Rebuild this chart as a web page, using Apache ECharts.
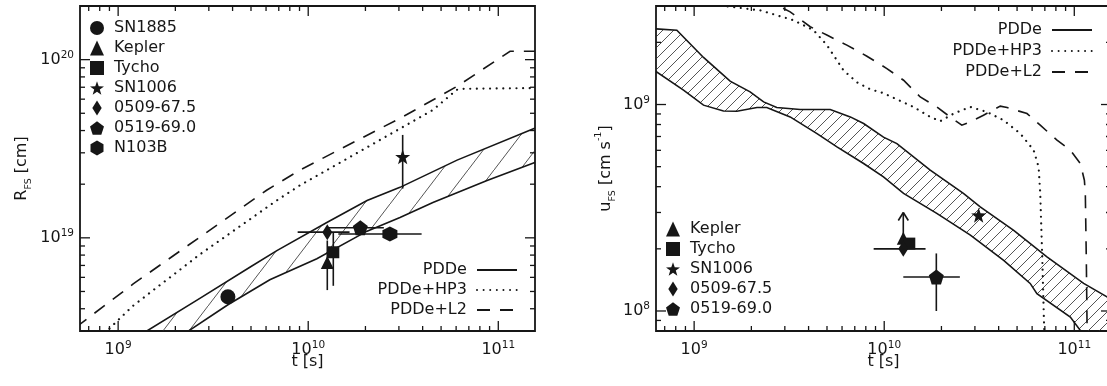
<!DOCTYPE html>
<html><head><meta charset="utf-8">
<script src="https://cdn.jsdelivr.net/npm/echarts@6/dist/echarts.min.js"></script>
<style>html,body{margin:0;padding:0;background:#fff}#c{width:1107px;height:386px}</style>
</head><body><div id="c"></div>
<script>
// ================= DATA =================
// axis ranges (log)
const tRange = [6.3e8, 1.56e11];
const rRange = [3e18, 2e20];
const uRange = [8e7, 3e9];

// ---- left panel: forward-shock radius R_FS ----
const bandRUpperT = [1.2e9, 1.416e9, 2.69e9, 4.93e9, 6.84e9, 1.253e10, 2.04e10, 3.04e10, 6.07e10, 1.52e11, 1.66e11];
const bandRUpperR = [2.69e18, 3.0e18, 4.57e18, 6.84e18, 8.48e18, 1.22e19, 1.62e19, 1.92e19, 2.73e19, 4.08e19, 4.24e19];
const bandRLowerT = [2.0e9, 2.30e9, 3.78e9, 6.28e9, 1.11e10, 2.04e10, 3.04e10, 4.53e10, 8.73e10, 1.52e11, 1.66e11];
const bandRLowerR = [2.69e18, 2.96e18, 4.21e18, 5.82e18, 7.64e18, 1.09e19, 1.30e19, 1.58e19, 2.10e19, 2.62e19, 2.72e19];
const hp3RT = [8.5e8, 9.06e8, 1.195e9, 2.69e9, 6.82e9, 9.04e9, 4.53e10, 6.04e10, 6.55e10, 1.47e11, 1.66e11];
const hp3R  = [2.92e18, 3.12e18, 4.15e18, 8.07e18, 1.62e19, 1.97e19, 5.22e19, 6.77e19, 6.86e19, 6.92e19, 6.93e19];
const l2RT = [6.0e8, 6.28e8, 1.2e9, 6.04e9, 9.04e9, 3.16e10, 6.04e10, 1.153e11, 1.66e11];
const l2R  = [3.16e18, 3.27e18, 5.51e18, 1.85e19, 2.40e19, 4.79e19, 7.06e19, 1.114e20, 1.114e20];

const remnantsR = ['SN1885', 'Kepler', 'Tycho', 'SN1006', '0509-67.5', '0519-69.0', 'N103B'];
const ageR    = [3.78e9, 1.26e10, 1.355e10, 3.14e10, 1.26e10, 1.88e10, 2.69e10];
const radius  = [4.67e18, 7.28e18, 8.3e18, 2.85e19, 1.076e19, 1.14e19, 1.05e19];
const radiusLo = [null, 5.09e18, 5.38e18, 1.89e19, null, null, null];
const radiusHi = [null, 9.66e18, 1.076e19, 3.78e19, null, null, null];
const ageRLo  = [null, null, null, null, 8.8e9, 1.26e10, 1.44e10];
const ageRHi  = [null, null, null, null, 1.65e10, 2.5e10, 3.95e10];

// ---- right panel: forward-shock velocity u_FS ----
const bandUUpperT = [6.0e8, 8.11e8, 1.12e9, 1.546e9, 1.97e9, 2.32e9, 2.72e9, 3.61e9, 5.2e9, 6.63e9, 7.79e9, 9.91e9, 1.166e10, 1.746e10, 2.61e10, 3.2e10, 4.8e10, 7.18e10, 1.12e11, 1.486e11, 1.62e11];
const bandUUpperU = [2.33e9, 2.29e9, 1.69e9, 1.297e9, 1.151e9, 1.03e9, 9.67e8, 9.46e8, 9.46e8, 8.71e8, 8.09e8, 6.95e8, 6.47e8, 4.81e8, 3.71e8, 3.19e8, 2.46e8, 1.83e8, 1.36e8, 1.17e8, 1.11e8];
const bandULowerT = [6.0e8, 8.79e8, 1.12e9, 1.427e9, 1.678e9, 2.14e9, 2.41e9, 3.2e9, 4.43e9, 5.64e9, 7.79e9, 9.91e9, 1.264e10, 1.89e10, 2.84e10, 4.25e10, 5.86e10, 6.36e10, 9.53e10, 1.076e11, 1.62e11];
const bandULowerU = [1.49e9, 1.173e9, 9.93e8, 9.31e8, 9.28e8, 9.67e8, 9.67e8, 8.71e8, 7.23e8, 6.24e8, 5.18e8, 4.46e8, 3.71e8, 2.97e8, 2.33e8, 1.76e8, 1.36e8, 1.214e8, 9.35e7, 8.05e7, 6.3e7];
const hp3UT = [1.29e9, 1.486e9, 2.22e9, 3.33e9, 4.25e9, 4.99e9, 5.63e9, 6.1e9, 7.18e9, 8.43e9, 9.91e9, 1.426e10, 1.746e10, 1.97e10, 2.32e10, 2.84e10, 3.47e10, 4.25e10, 5.2e10, 6.11e10, 6.49e10, 6.62e10, 6.79e10, 6.95e10, 7.0e10];
const hp3U  = [3.13e9, 2.99e9, 2.86e9, 2.56e9, 2.29e9, 1.94e9, 1.64e9, 1.466e9, 1.282e9, 1.186e9, 1.135e9, 9.73e8, 8.71e8, 8.3e8, 9.04e8, 9.73e8, 9.2e8, 8.39e8, 7.23e8, 6.01e8, 4.99e8, 3.71e8, 1.76e8, 7.9e7, 6.0e7];
const l2UT = [2.3e9, 2.51e9, 2.72e9, 3.2e9, 4.08e9, 4.99e9, 6.36e9, 8.11e9, 1.033e10, 1.264e10, 1.547e10, 1.89e10, 2.22e10, 2.56e10, 2.84e10, 3.33e10, 4.08e10, 4.43e10, 5.64e10, 6.62e10, 8.11e10, 9.53e10, 1.076e11, 1.13e11, 1.143e11, 1.157e11, 1.17e11];
const l2U  = [3.3e9, 3.13e9, 3.03e9, 2.81e9, 2.38e9, 2.17e9, 1.94e9, 1.714e9, 1.493e9, 1.311e9, 1.088e9, 9.73e8, 8.71e8, 7.94e8, 8.24e8, 8.88e8, 9.82e8, 9.67e8, 9.04e8, 7.94e8, 6.72e8, 6.01e8, 5.18e8, 4.3e8, 3.72e8, 1.76e8, 7.0e7];

const remnantsU = ['Kepler', 'Tycho', 'SN1006', '0509-67.5', '0519-69.0'];
const ageU    = [1.26e10, 1.355e10, 3.14e10, 1.26e10, 1.88e10];
const speed   = [2.25e8, 2.12e8, 2.91e8, 2.0e8, 1.46e8];
const speedLo = [null, null, null, null, 1.0e8];
const speedHi = [null, null, null, null, 1.9e8];
const speedLimit = [3.0e8, null, null, null, null];   // lower limit (arrow)
const ageULo  = [null, null, null, 8.8e9, 1.26e10];
const ageUHi  = [null, null, null, 1.65e10, 2.5e10];

const modelNames = ['PDDe', 'PDDe+HP3', 'PDDe+L2'];

// ================= STYLE =================
const FONT = '"DejaVu Sans", "Liberation Sans", Arial, sans-serif';
const FS = 16;
const INK = '#161616';

function starPath() {
  let d = '';
  for (let k = 0; k < 10; k++) {
    const r = k % 2 === 0 ? 50 : 20;
    const a = -Math.PI / 2 + k * Math.PI / 5;
    d += (k === 0 ? 'M' : 'L') + (50 + r * Math.cos(a)).toFixed(2) + ',' + (50 + r * Math.sin(a)).toFixed(2) + ' ';
  }
  return 'path://' + d + 'Z';
}
const SYM = {
  'SN1885': 'circle',
  'Kepler': 'triangle',
  'Tycho': 'path://M0,0H10V10H0Z',
  'SN1006': starPath(),
  '0509-67.5': 'path://M5,0L10,8L5,16L0,8Z',
  '0519-69.0': 'path://M50,0L97.6,34.5L79.4,90.5L20.6,90.5L2.4,34.5Z',
  'N103B': 'path://M50,0L93.3,25L93.3,75L50,100L6.7,75L6.7,25Z'
};
const SIZE = {
  'SN1885': 15, 'Kepler': 13, 'Tycho': 12, 'SN1006': 15,
  '0509-67.5': [10, 16], '0519-69.0': 15, 'N103B': 15
};
const LINESTYLE = {
  'PDDe':     { width: 1.6, dash: null, cap: 'butt' },
  'PDDe+HP3': { width: 2.2, dash: [0.01, 6.6], cap: 'round' },
  'PDDe+L2':  { width: 1.6, dash: [13, 10], cap: 'butt' }
};

function hatch(w, h, lw) {
  const c = document.createElement('canvas');
  c.width = w; c.height = h;
  const g = c.getContext('2d');
  g.strokeStyle = '#2a2a2a'; g.lineWidth = lw;
  g.beginPath(); g.moveTo(-w, 2 * h); g.lineTo(2 * w, -h); g.stroke();
  return { image: c, repeat: 'repeat' };
}

function powLabel(v) {
  const e = Math.log10(v), r = Math.round(e);
  if (Math.abs(e - r) > 1e-6) return '';
  return '10{sup|' + r + '}';
}

function tickItems(xr, yr) {
  const out = [];
  const walk = (lo, hi, fn) => {
    for (let e = Math.floor(Math.log10(lo)); e <= Math.ceil(Math.log10(hi)); e++)
      for (let k = 1; k <= 9; k++) {
        const v = k * Math.pow(10, e);
        if (v > lo * 1.0001 && v < hi * 0.9999) fn(v, k === 1);
      }
  };
  walk(xr[0], xr[1], (v, m) => out.push([v, yr[0], m ? 0 : 1]));
  walk(yr[0], yr[1], (v, m) => out.push([xr[0], v, m ? 2 : 3]));
  return out;
}

function clipRect(cs) {
  return { type: 'rect', shape: { x: cs.x, y: cs.y, width: cs.width, height: cs.height } };
}

function tickSeries(gi, xr, yr) {
  return {
    type: 'custom', name: '_ticks' + gi, xAxisIndex: gi, yAxisIndex: gi, z: 10, silent: true,
    data: tickItems(xr, yr),
    renderItem: (params, api) => {
      const cs = params.coordSys;
      const type = api.value(2);
      const p = api.coord([api.value(0), api.value(1)]);
      const len = (type === 0 || type === 2) ? 10 : 5;
      const st = { stroke: INK, lineWidth: 1.3 };
      if (type < 2) {
        return { type: 'group', children: [
          { type: 'line', shape: { x1: p[0], y1: cs.y + cs.height, x2: p[0], y2: cs.y + cs.height - len }, style: st },
          { type: 'line', shape: { x1: p[0], y1: cs.y, x2: p[0], y2: cs.y + len }, style: st }
        ] };
      }
      return { type: 'group', children: [
        { type: 'line', shape: { x1: cs.x, y1: p[1], x2: cs.x + len, y2: p[1] }, style: st },
        { type: 'line', shape: { x1: cs.x + cs.width, y1: p[1], x2: cs.x + cs.width - len, y2: p[1] }, style: st }
      ] };
    }
  };
}

function bandSeries(gi, upT, upV, loT, loV, pattern) {
  return {
    type: 'custom', name: '_band' + gi, xAxisIndex: gi, yAxisIndex: gi, z: 1, silent: true, clip: true,
    data: [[upT[0], upV[0]]],
    renderItem: (params, api) => {
      const pts = [];
      for (let i = 0; i < upT.length; i++) pts.push(api.coord([upT[i], upV[i]]));
      for (let i = loT.length - 1; i >= 0; i--) pts.push(api.coord([loT[i], loV[i]]));
      return {
        type: 'polygon', shape: { points: pts }, style: { fill: pattern, stroke: null },
        clipPath: clipRect(params.coordSys)
      };
    }
  };
}

// model curve drawn through the axes' scales (custom polyline)
function curveSeries(gi, model, T, V) {
  const s = LINESTYLE[model];
  return {
    type: 'custom', name: '_curve' + gi + model, xAxisIndex: gi, yAxisIndex: gi, z: 2, silent: true, clip: true,
    data: [[T[0], V[0]]],
    renderItem: (params, api) => {
      const pts = T.map((t, i) => api.coord([t, V[i]]));
      return {
        type: 'polyline', shape: { points: pts },
        style: { stroke: INK, lineWidth: s.width, lineDash: s.dash, lineCap: s.cap, fill: null },
        clipPath: clipRect(params.coordSys)
      };
    }
  };
}

// legend carriers for the model curves (no data; symbol made transparent)
function legendLine(gi, model) {
  const s = LINESTYLE[model];
  return {
    type: 'line', name: model, xAxisIndex: gi, yAxisIndex: gi, data: [], symbol: 'circle', showSymbol: false,
    lineStyle: { color: INK, width: s.width, type: s.dash || 'solid', cap: s.cap },
    itemStyle: { color: 'rgba(0,0,0,0)', borderWidth: 0 }
  };
}

function errSeries(gi, T, V, tLo, tHi, vLo, vHi, vLim) {
  return {
    type: 'custom', name: '_err' + gi, xAxisIndex: gi, yAxisIndex: gi, z: 3, silent: true,
    data: T.map((t, i) => [t, V[i], i]),
    renderItem: (params, api) => {
      const i = api.value(2);
      const st = { stroke: INK, lineWidth: 1.6 };
      const ch = [];
      const seg = (a, b) => ch.push({ type: 'line', shape: { x1: a[0], y1: a[1], x2: b[0], y2: b[1] }, style: st });
      if (tLo[i] != null) seg(api.coord([tLo[i], V[i]]), api.coord([tHi[i], V[i]]));
      if (vLo[i] != null) seg(api.coord([T[i], vLo[i]]), api.coord([T[i], vHi[i]]));
      if (vLim && vLim[i] != null) {
        const a = api.coord([T[i], V[i]]), b = api.coord([T[i], vLim[i]]);
        seg(a, b);
        seg(b, [b[0] - 5, b[1] + 8]);
        seg(b, [b[0] + 5, b[1] + 8]);
      }
      return { type: 'group', children: ch };
    }
  };
}

function markerSeries(gi, names, T, V) {
  return names.map((n, i) => ({
    type: 'scatter', name: n, xAxisIndex: gi, yAxisIndex: gi, z: 4, silent: true,
    symbol: SYM[n], symbolSize: SIZE[n], symbolKeepAspect: false,
    itemStyle: { color: INK, opacity: 1 },
    data: [[T[i], V[i]]]
  }));
}

const labelStyle = {
  formatter: powLabel, fontSize: FS, fontFamily: FONT, color: INK, lineHeight: 20,
  rich: { sup: { fontSize: 10.5, fontFamily: FONT, color: INK, verticalAlign: 'top', lineHeight: 10 } }
};

function xAxis(gi) {
  return {
    type: 'log', logBase: 10, gridIndex: gi, min: tRange[0], max: tRange[1],
    axisLine: { show: false }, axisTick: { show: false }, splitLine: { show: false }, minorTick: { show: false },
    axisLabel: Object.assign({ margin: 9 }, labelStyle),
    name: 't [s]', nameLocation: 'middle', nameGap: 23, nameMoveOverlap: false,
    nameTextStyle: { fontSize: FS, fontFamily: FONT, color: INK }
  };
}
function yAxis(gi, range, name, gap) {
  return {
    type: 'log', logBase: 10, gridIndex: gi, min: range[0], max: range[1],
    axisLine: { show: false }, axisTick: { show: false }, splitLine: { show: false }, minorTick: { show: false },
    axisLabel: Object.assign({ margin: 6 }, labelStyle),
    name, nameLocation: 'middle', nameGap: gap, nameMoveOverlap: false,
    nameTextStyle: {
      fontSize: FS, fontFamily: FONT, color: INK, lineHeight: 24,
      rich: {
        sub: { fontSize: 9.5, fontFamily: FONT, color: INK, verticalAlign: 'bottom', lineHeight: 9 },
        sup: { fontSize: 9.5, fontFamily: FONT, color: INK, verticalAlign: 'top', lineHeight: 9 }
      }
    }
  };
}

const legendText = { fontSize: FS, fontFamily: FONT, color: INK };
const gridBox = { show: true, borderColor: INK, borderWidth: 1.8, backgroundColor: 'transparent', containLabel: false, outerBoundsMode: 'none' };
const lineLegendBase = {
  orient: 'vertical', padding: 0, itemWidth: 40, itemHeight: 15, align: 'right',
  selectedMode: false, textStyle: legendText, formatter: n => n + ' ', data: modelNames
};

const option = {
  animation: false,
  backgroundColor: '#fff',
  grid: [
    Object.assign({ left: 80, top: 6, width: 455, height: 325 }, gridBox),
    Object.assign({ left: 656, top: 6, width: 455, height: 325 }, gridBox)
  ],
  xAxis: [xAxis(0), xAxis(1)],
  yAxis: [
    yAxis(0, rRange, 'R{sub|FS} [cm]', 46),
    yAxis(1, uRange, 'u{sub|FS} [cm s{sup|-1}]', 38)
  ],
  legend: [
    { orient: 'vertical', left: 90, top: 20, padding: 0, itemWidth: 14, itemHeight: 15, itemGap: 4, align: 'left',
      selectedMode: false, textStyle: legendText, formatter: n => ' ' + n,
      data: remnantsR.map(n => ({ name: n, icon: SYM[n] })) },
    Object.assign({ right: 1107 - 518, top: 262, itemGap: 4 }, lineLegendBase),
    Object.assign({ right: 14, top: 22, itemGap: 5 }, lineLegendBase),
    { orient: 'vertical', left: 666, top: 221, padding: 0, itemWidth: 14, itemHeight: 15, itemGap: 4, align: 'left',
      selectedMode: false, textStyle: legendText, formatter: n => ' ' + n,
      data: remnantsU.map(n => ({ name: n, icon: SYM[n] })) }
  ],
  series: [].concat(
    modelNames.map(m => legendLine(0, m)),
    [
      bandSeries(0, bandRUpperT, bandRUpperR, bandRLowerT, bandRLowerR, hatch(26, 34, 0.8)),
      curveSeries(0, 'PDDe', bandRUpperT, bandRUpperR),
      curveSeries(0, 'PDDe', bandRLowerT, bandRLowerR),
      curveSeries(0, 'PDDe+HP3', hp3RT, hp3R),
      curveSeries(0, 'PDDe+L2', l2RT, l2R),
      errSeries(0, ageR, radius, ageRLo, ageRHi, radiusLo, radiusHi, null)
    ],
    markerSeries(0, remnantsR, ageR, radius),
    [
      tickSeries(0, tRange, rRange),
      bandSeries(1, bandUUpperT, bandUUpperU, bandULowerT, bandULowerU, hatch(11, 11, 0.8)),
      curveSeries(1, 'PDDe', bandUUpperT, bandUUpperU),
      curveSeries(1, 'PDDe', bandULowerT, bandULowerU),
      curveSeries(1, 'PDDe+HP3', hp3UT, hp3U),
      curveSeries(1, 'PDDe+L2', l2UT, l2U),
      errSeries(1, ageU, speed, ageULo, ageUHi, speedLo, speedHi, speedLimit)
    ],
    markerSeries(1, remnantsU, ageU, speed),
    [tickSeries(1, tRange, uRange)]
  )
};

const chart = echarts.init(document.getElementById('c'), null, { renderer: 'canvas', width: 1107, height: 386 });
chart.setOption(option);
</script></body></html>
